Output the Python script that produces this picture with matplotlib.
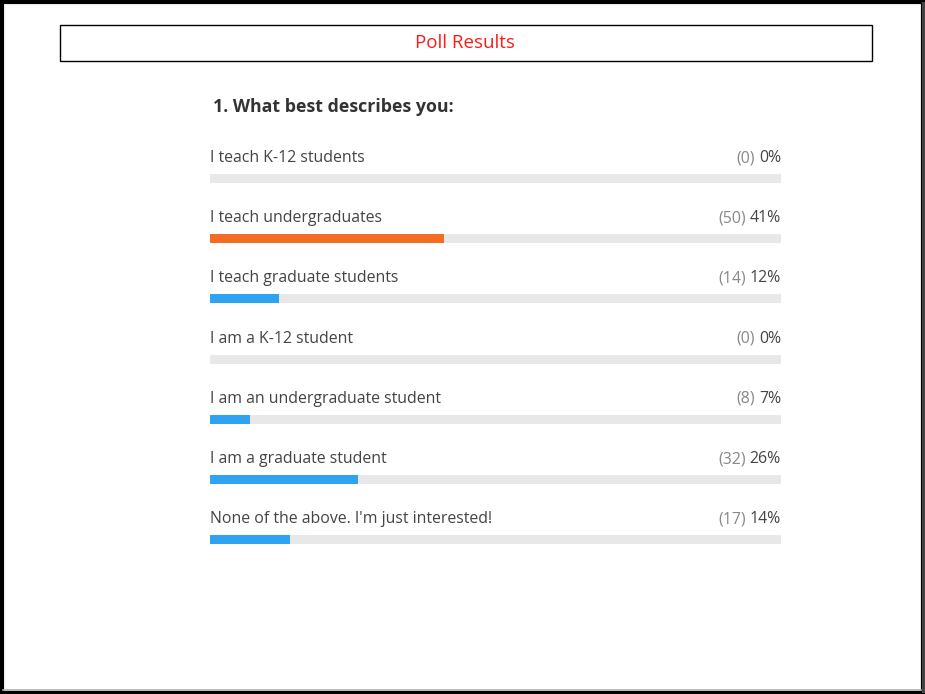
import matplotlib.pyplot as plt
from matplotlib.patches import Rectangle

plt.rcParams['font.family'] = ['Open Sans', 'DejaVu Sans']

# poll data
answers = ['I teach K-12 students', 'I teach undergraduates', 'I teach graduate students',
           'I am a K-12 student', 'I am an undergraduate student', 'I am a graduate student',
           "None of the above. I'm just interested!"]
counts = [0, 50, 14, 0, 8, 32, 17]
percents = [0, 41, 12, 0, 7, 26, 14]
bar_colors = ['#2ea3f2', '#f26c23', '#2ea3f2', '#2ea3f2', '#2ea3f2', '#2ea3f2', '#2ea3f2']

W, H = 925, 694
fig = plt.figure(figsize=(W / 100, H / 100), dpi=100)

# full-size axes in pixel coords for frames and text
ax = fig.add_axes([0, 0, 1, 1])
ax.set_xlim(0, W)
ax.set_ylim(H, 0)
ax.axis('off')

# outer frame
ax.add_patch(Rectangle((1.5, 1.5), W - 4, H - 3, fill=False, ec='black', lw=3))
ax.plot([3, W - 4], [690, 690], color='#b0b0b0', lw=1.2)
ax.plot([923, 923], [3, H - 3], color='#444444', lw=2.2)

# title box
ax.add_patch(Rectangle((60, 25), 812, 36, fill=False, ec='black', lw=1))
ax.text(465, 43, 'Poll Results', color='#ff1a1a', fontsize=13.5, ha='center', va='center')

ax.text(213, 107, '1. What best describes you:', color='#333333', fontsize=12.8,
        fontweight='bold', ha='left', va='center')

# bar axes: x in percent, y in pixels
x0, x1 = 210, 781
bx = fig.add_axes([x0 / W, 0, (x1 - x0) / W, 1])
bx.set_xlim(0, 100)
bx.set_ylim(H, 0)
bx.axis('off')

row_y = [178.5 + 60.2 * i for i in range(len(answers))]
bx.barh(row_y, [100] * len(answers), height=9, color='#e8e8e8')
bx.barh(row_y, percents, height=9, color=bar_colors)

for y, label, c, p in zip(row_y, answers, counts, percents):
    bx.text(0, y - 20.5, label, color='#444444', fontsize=11.4, ha='left', va='center')
    t = bx.text(100, y - 20.5, '%d%%' % p, color='#444444', fontsize=11.4, ha='right', va='center')
    bx.annotate('(%d)' % c, xy=(0, 0.5), xycoords=t, xytext=(-3, 0), textcoords='offset points',
                color='#888888', fontsize=11.4, ha='right', va='center')

fig.savefig('out.png', dpi=100)
